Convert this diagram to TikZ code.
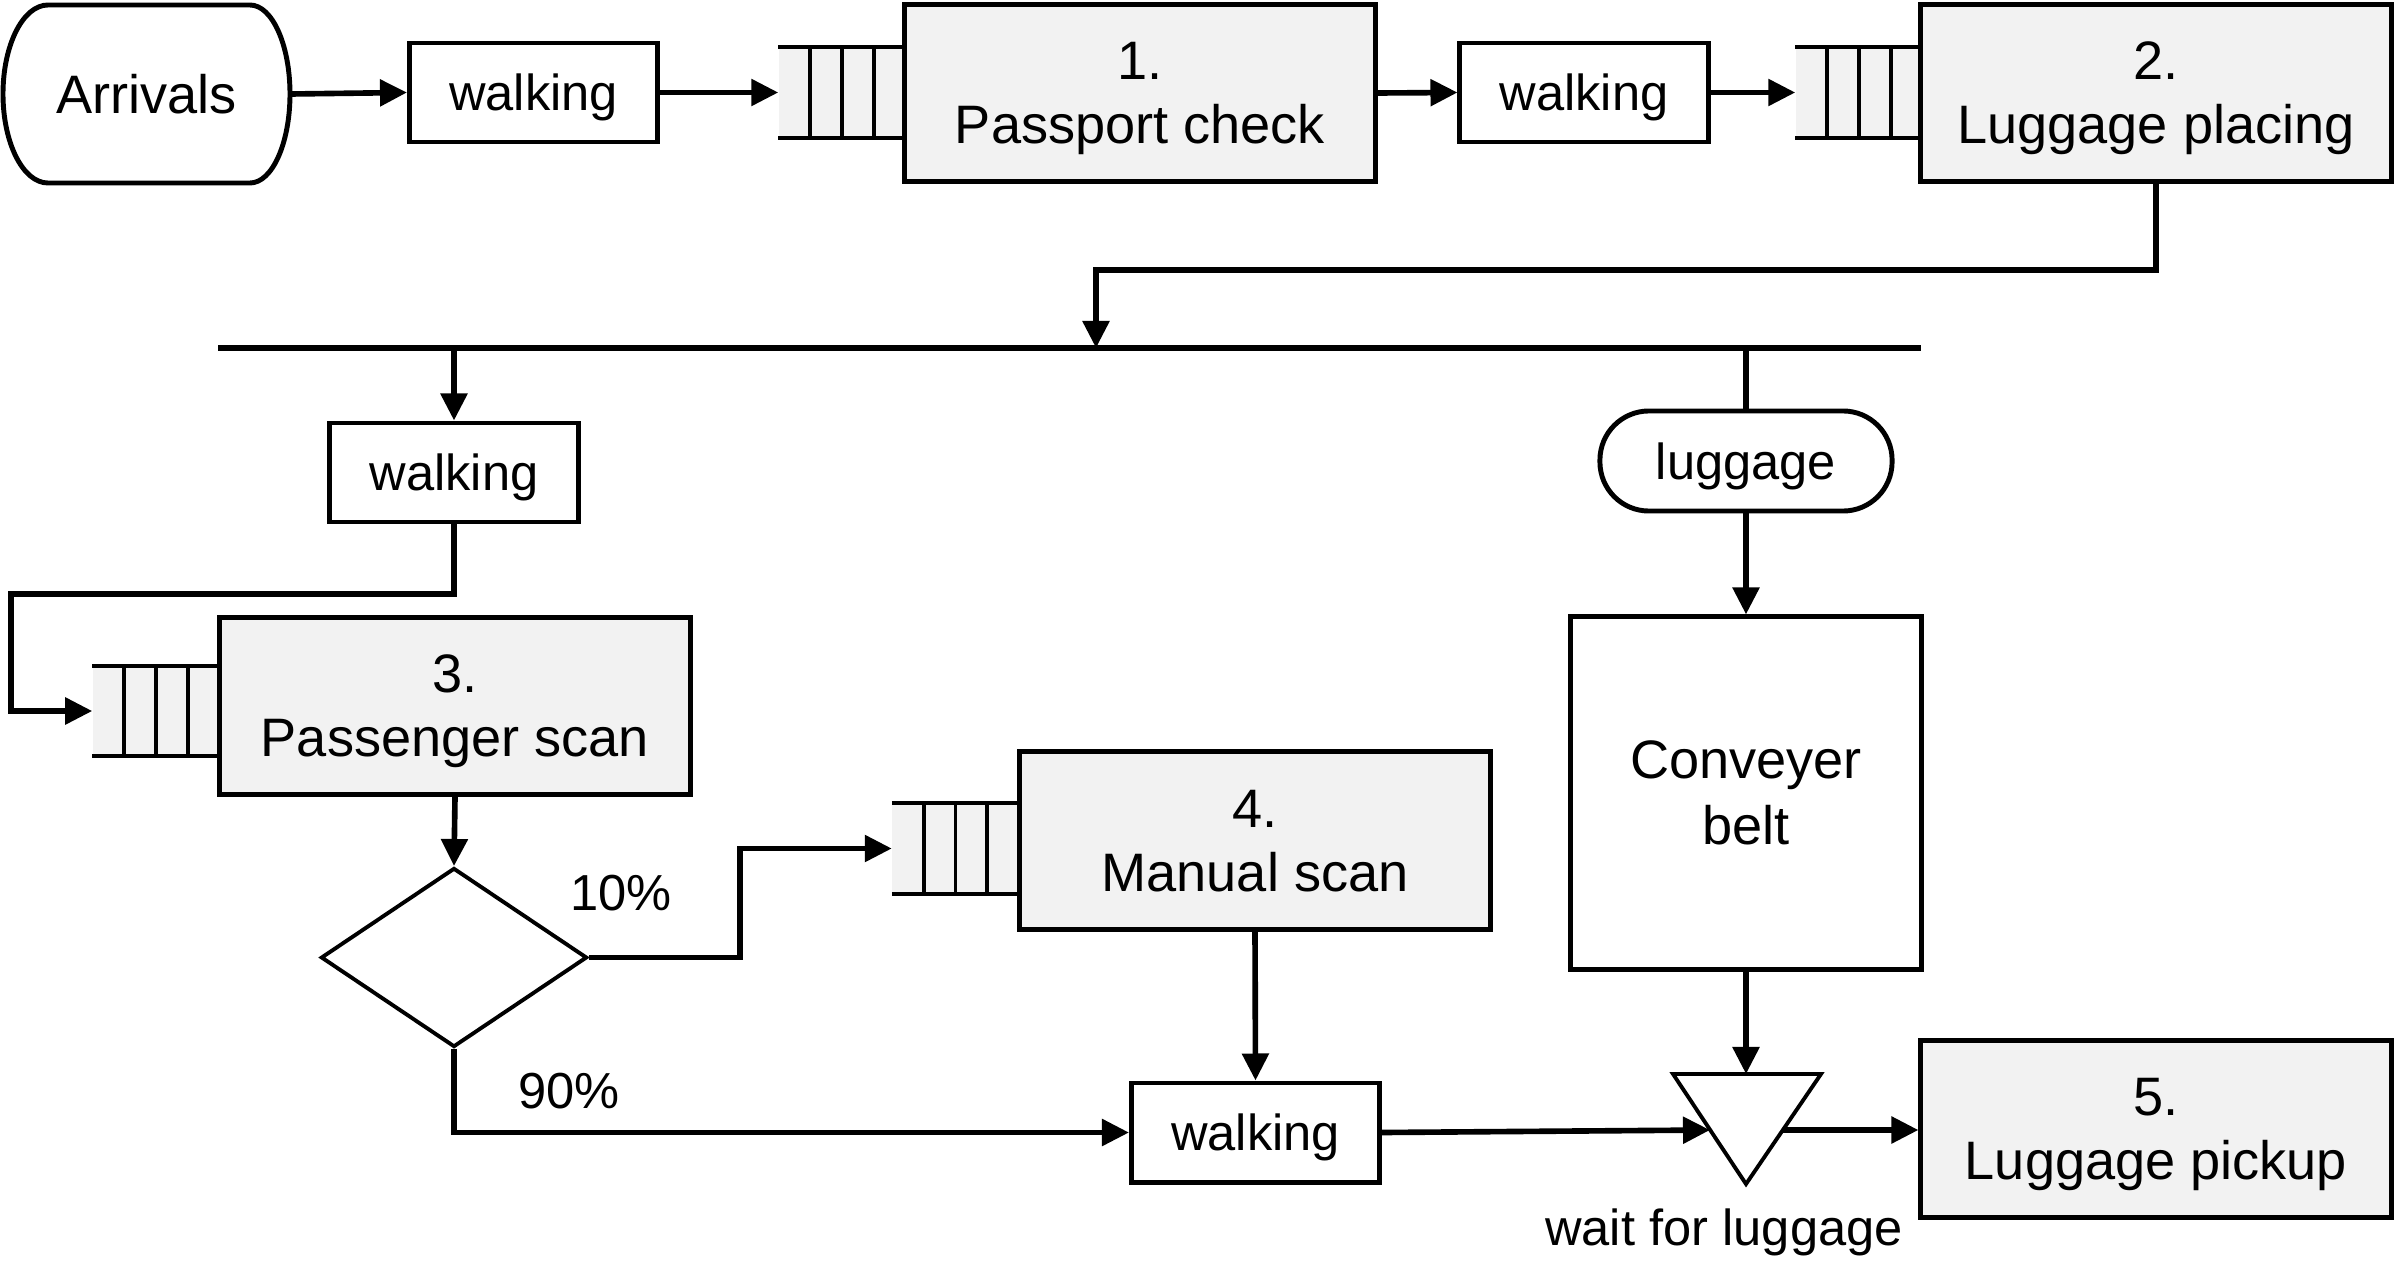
\documentclass[tikz,border=0pt]{standalone}
\usepackage{fontspec}
\setmainfont{Liberation Sans}
\usetikzlibrary{arrows.meta,shapes.geometric,calc}
\definecolor{boxfill}{HTML}{F2F2F2}
\tikzset{
  big/.style={font=\fontsize{15.4}{18.2}\selectfont},
  small/.style={font=\fontsize{14.4}{16}\selectfont},
  proc/.style={draw, line width=1.4pt, fill=boxfill, minimum width=4.7cm, minimum height=1.77cm, align=center, inner sep=0pt, text depth=0pt, big},
  walkbox/.style={draw, line width=1.4pt, fill=white, minimum width=2.48cm, minimum height=0.99cm, inner sep=0pt, text depth=0pt, small},
  queuebox/.style={fill=boxfill, minimum width=1.26cm, minimum height=0.89cm, inner sep=0pt},
  qline/.style={line width=1.1pt},
  conn/.style={line width=1.6pt},
  arr/.style={conn, -{Triangle[length=0.27cm,width=0.26cm]}},
}
\newcommand\queuelines[1]{%
  \draw[qline] (#1.north west) -- (#1.north east) (#1.south west) -- (#1.south east);
  \foreach \f in {0.25,0.5,0.75}
    \draw[qline] ($(#1.north west)!\f!(#1.north east)$) -- ($(#1.south west)!\f!(#1.south east)$);
}
\begin{document}
\begin{tikzpicture}[x=0.01cm,y=-0.01cm]
\useasboundingbox (0,0) rectangle (2394,1285);
% top row
\node[minimum width=2.87cm, minimum height=1.78cm, inner sep=0pt, big] (arr) at (146.5,94) {Arrivals};
\draw[line width=1.4pt] (48,5) -- (250,5) .. controls (272.1,5) and (290,44.8) .. (290,94)
  .. controls (290,143.2) and (272.1,183) .. (250,183) -- (48,183)
  .. controls (23.1,183) and (3,143.2) .. (3,94)
  .. controls (3,44.8) and (23.1,5) .. (48,5) -- cycle;
\node[walkbox] (w1) at (533.5,92.5) {walking};
\node[queuebox] (q1) at (842,92.5) {};
\queuelines{q1}
\node[proc] (b1) at (1140,93) {1.\\Passport check};
\node[walkbox] (w2) at (1584,92.5) {walking};
\node[queuebox] (q2) at (1859,92.5) {};
\queuelines{q2}
\node[proc] (b2) at (2156,93) {2.\\Luggage placing};

\draw[arr] (arr.east) -- (w1.west);
\draw[arr] (w1.east) -- (q1.west);
\draw[arr] (b1.east) -- (w2.west);
\draw[arr] (w2.east) -- (q2.west);

% split bar
\coordinate (barL) at (218,348);
\coordinate (barR) at (1921,348);
\coordinate (split) at (1096,348);
\draw[conn] (barL) -- (barR);
\draw[arr] (b2.south) -- ++(0,86) -| (split);

% passenger side
\node[walkbox] (w3) at (454,472.5) {walking};
\node[queuebox] (q3) at (156,711) {};
\queuelines{q3}
\node[proc] (b3) at (455,706) {3.\\Passenger scan};
\node[draw, shape=diamond, line width=1.1pt, minimum width=2.66cm, minimum height=1.79cm, inner sep=0pt] (dec) at (454,957.5) {};
\node[queuebox] (q4) at (955.5,848.5) {};
\queuelines{q4}
\node[proc] (b4) at (1255,840.5) {4.\\Manual scan};
\node[walkbox] (w4) at (1255.5,1132.5) {walking};

\draw[arr] (w3.north |- barL) -- (w3.north);
\draw[arr] (w3.south) |- (11,594) |- (q3.west);
\draw[arr] (b3.south) -- (dec.north);
\draw[arr] (dec.east) -- (dec.east -| 740,0) |- (q4.west);
\draw[arr] (dec.south) |- (w4.west);
\draw[arr] (b4.south) -- (w4.north);
\node[small] (p10) at (621,893) {10\%};
\node[small] (p90) at (569,1091) {90\%};

% luggage side
\node[draw, line width=1.4pt, fill=white, rounded corners=0.49cm, minimum width=2.92cm, minimum height=1.0cm, inner sep=0pt, text depth=0pt, small] (lug) at (1746,461) {luggage};
\node[draw, line width=1.4pt, fill=white, minimum width=3.5cm, minimum height=3.52cm, inner sep=0pt, align=center, font=\fontsize{15.4}{18.8}\selectfont] (belt) at (1746,793) {Conveyer\\belt};
\coordinate (triT) at (1746,1074);
\coordinate (triIn) at (1710,1130);
\coordinate (triOut) at (1783,1130);
\draw[line width=1.1pt] (1673,1074) -- (1821,1074) -- (1746,1184) -- cycle;
\node[small] (waitlbl) at (1724,1232) {wait for luggage};
\node[proc] (b5) at (2156,1129) {5.\\Luggage pickup};

\draw[conn] (lug.north |- barL) -- (lug.north);
\draw[arr] (lug.south) -- (belt.north);
\draw[arr] (belt.south) -- (triT);
\draw[arr] (w4.east) -- (triIn);
\draw[arr] (triOut) -- (triOut -| b5.west);
\end{tikzpicture}
\end{document}
